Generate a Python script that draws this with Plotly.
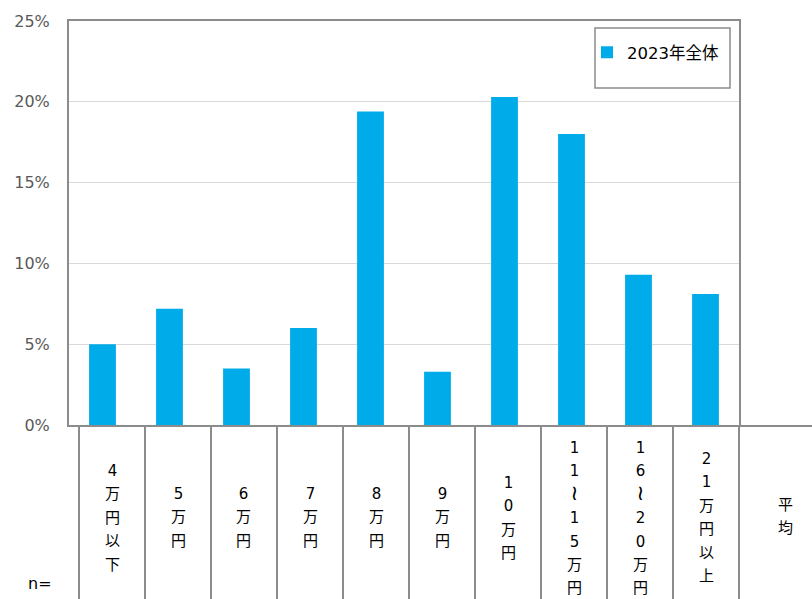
import plotly.graph_objects as go

categories = ["4万円以下", "5万円", "6万円", "7万円", "8万円", "9万円", "10万円",
              "11～15万円", "16～20万円", "21万円以上"]
values = [0.050, 0.072, 0.035, 0.060, 0.194, 0.033, 0.203, 0.180, 0.093, 0.081]
series_name = "2023年全体"
extra_column = "平均"
n_label = "n="
y_ticks = [0, 0.05, 0.10, 0.15, 0.20, 0.25]

W, H = 812, 599
L, R, T, B = 69, 739, 15, 425
GRAY = "#8c8c8c"
BLUE = "#00abe9"
FONT = "DejaVu Sans, Noto Sans CJK JP"


def px(x):
    return (x - L) / (R - L)


def py(y):
    return (B - y) / (B - T)


fig = go.Figure()
fig.add_trace(go.Bar(x=categories, y=values, name=series_name, width=0.4,
                     marker=dict(color=BLUE, line=dict(width=0)),
                     showlegend=True))

shapes = []
# table vertical lines
for k in range(11):
    x = 79 + 66 * k
    shapes.append(dict(type="line", xref="paper", yref="paper",
                       x0=px(x), x1=px(x), y0=py(B), y1=py(H + 5),
                       line=dict(color=GRAY, width=2)))
# header line for the extra column
shapes.append(dict(type="line", xref="paper", yref="paper",
                   x0=px(R), x1=px(W + 5), y0=py(426), y1=py(426),
                   line=dict(color=GRAY, width=2)))
# legend box
shapes.append(dict(type="rect", xref="paper", yref="paper",
                   x0=px(595), x1=px(730), y0=py(22), y1=py(83),
                   line=dict(color=GRAY, width=1.5), fillcolor="white", layer="below"))

annotations = []


def vertical(label):
    parts = []
    for c in label:
        if c == "～":
            parts.append("<span style='font-size:21px'>≀</span>")
        else:
            parts.append("<span style='font-size:15px'>%s</span>" % c)
    return "<br>".join(parts)


centers = [112 + 66 * k for k in range(len(categories))]
for cx, lab in zip(centers, categories):
    annotations.append(dict(xref="paper", yref="paper", x=px(cx), y=py(519),
                            text=vertical(lab), showarrow=False,
                            xanchor="center", yanchor="middle",
                            font=dict(family=FONT, size=18, color="#000000")))
annotations.append(dict(xref="paper", yref="paper", x=px(785), y=py(518),
                        text=vertical(extra_column), showarrow=False,
                        xanchor="center", yanchor="middle",
                        font=dict(family=FONT, size=18, color="#000000")))
annotations.append(dict(xref="paper", yref="paper", x=px(54), y=py(598),
                        text=n_label, showarrow=False, xanchor="right", yanchor="bottom",
                        font=dict(family="DejaVu Sans", size=16, color="#000000")))

fig.update_layout(
    width=W, height=H,
    margin=dict(l=L, r=W - R, t=T, b=H - B, pad=0),
    paper_bgcolor="white", plot_bgcolor="white",
    shapes=shapes,
    annotations=annotations,
    legend=dict(x=px(587), y=py(47), xanchor="left", yanchor="middle",
                bgcolor="rgba(0,0,0,0)", borderwidth=0,
                font=dict(family=FONT, size=16.5, color="#000000")),
    xaxis=dict(showticklabels=False, showgrid=False, ticks="",
               showline=True, linecolor=GRAY, linewidth=2, mirror=True,
               range=[-0.5, len(categories) - 0.5]),
    yaxis=dict(range=[0, 0.25], tickvals=y_ticks, tickformat=".0%",
               showgrid=True, gridcolor="#d9d9d9", gridwidth=1,
               showline=True, linecolor=GRAY, linewidth=2, mirror=True,
               zeroline=False, ticks="", ticklabelstandoff=14,
               tickfont=dict(family="DejaVu Sans", size=16, color="#595959")),
)

fig.write_html(
    "out.html",
    config={"displayModeBar": False},
    post_script="document.documentElement.style.margin='0';"
                "document.body.style.margin='0';"
                "document.body.style.overflow='hidden';",
)
